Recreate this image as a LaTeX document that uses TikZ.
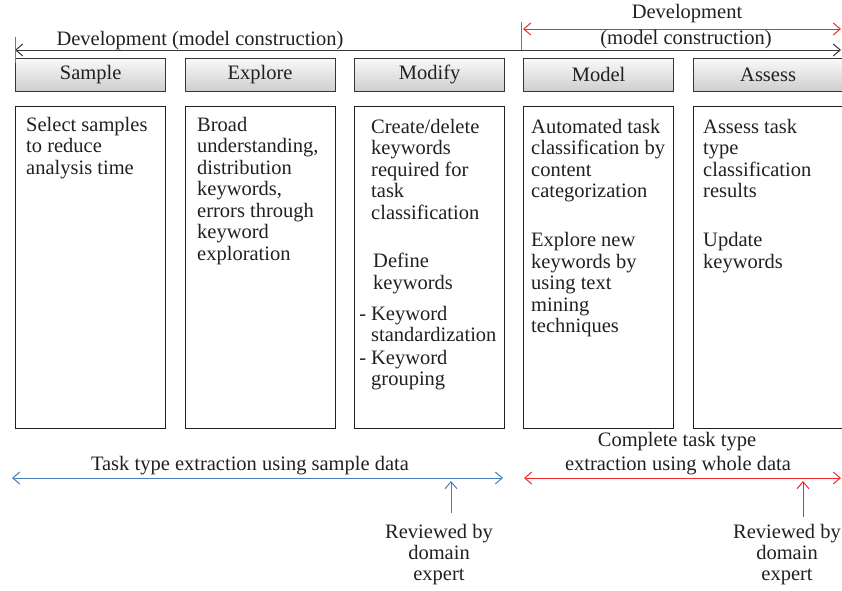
\documentclass[tikz,border=0pt]{standalone}
\usepackage{fontspec}
\setmainfont{Liberation Serif}
\usetikzlibrary{arrows.meta}
\definecolor{ablue}{HTML}{4A7EBB}
\definecolor{ared}{HTML}{EE2A2A}
\definecolor{ink}{HTML}{231F20}
\begin{document}
\begin{tikzpicture}[x=1pt,y=-1pt,
  every node/.style={text=ink, font=\fontsize{20.5}{21.5}\selectfont},
  hdr/.style={draw=ink!90, line width=1.2pt, top color=gray!5, bottom color=gray!38,
    minimum width=150pt, minimum height=32.5pt, inner sep=0pt, anchor=north west},
  bodybox/.style={draw=ink, line width=1.1pt, minimum width=150pt, minimum height=322pt,
    inner sep=0pt, anchor=north west},
  para/.style={anchor=north west, inner sep=0pt, align=left},
  rev/.style={anchor=north, inner sep=0pt, align=center},
  lbl/.style={anchor=base, inner sep=0pt},
  span/.style={{Straight Barb[length=7pt,width=12pt]}-{Straight Barb[length=7pt,width=12pt]}, line width=1pt},
  uptip/.style={-{Straight Barb[length=7pt,width=12pt]}, line width=1pt},
  tick/.style={ablue, line width=1pt}
]
\useasboundingbox (0,0) rectangle (842,590);
\clip (0,0) rectangle (842,590);

% header boxes
\node[hdr] (hsample) at (15,58) {Sample};
\node[hdr] (hexplore) at (184.5,58) {Explore};
\node[hdr] (hmodify) at (354,58) {Modify};
\node[hdr] (hmodel) at (523,58) {Model};
\node[hdr] (hassess) at (692.5,58) {Assess};

% body boxes
\node[bodybox] (bsample) at (15,106) {};
\node[bodybox] (bexplore) at (184.5,106) {};
\node[bodybox] (bmodify) at (354,106) {};
\node[bodybox] (bmodel) at (523,106) {};
\node[bodybox] (bassess) at (692.5,106) {};

% body texts
\node[para] (tsample) at (26,116) {\strut Select samples\\to reduce\\analysis time};
\node[para] (texplore) at (197,116) {\strut Broad\\understanding,\\distribution\\keywords,\\errors through\\keyword\\exploration};
\node[para] (tmodA) at (371,118) {\strut Create/delete\\keywords\\required for\\task\\classification};
\node[para] (tmodB) at (373,252.5) {\strut Define\\keywords};
\node[para] (tmodC) at (371,305) {\strut\llap{- }Keyword\\standardization};
\node[para] (tmodD) at (371,349) {\strut\llap{- }Keyword\\grouping};
\node[para] (tmodelA) at (531,118) {\strut Automated task\\classification by\\content\\categorization};
\node[para] (tmodelB) at (531,231.5) {\strut Explore new\\keywords by\\using text\\mining\\techniques};
\node[para] (tassA) at (703,118) {\strut Assess task\\type\\classification\\results};
\node[para] (tassB) at (703,231.5) {\strut Update\\keywords};

% top spans
\coordinate (tl) at (15,50);
\coordinate (tr) at (841,50);
\draw[span, draw=ink!90] (tl) -- (tr);
\draw[tick] (15,37) -- (15,63);
\node[lbl] (devl) at (200,45.5) {Development (model construction)};

\coordinate (rl) at (523,29);
\coordinate (rr) at (841,29);
\draw[span, ared] (rl) -- (rr);
\draw[tick] (521,22) -- (521,50);
\node[lbl] (devr1) at (687,18.5) {Development};
\node[lbl] (devr2) at (686,44.5) {(model construction)};

% bottom spans
\coordinate (bl) at (12,478);
\coordinate (br) at (503,478);
\draw[span, ablue] (bl) -- (br);
\node[lbl] (tsd) at (250,470.5) {Task type extraction using sample data};
\coordinate (bup0) at (451,513);
\coordinate (bup1) at (451,481);
\draw[uptip, ablue] (bup0) -- (bup1);
\node[rev, font=\fontsize{20.5}{20.3}\selectfont] (revb) at (439,524) {\strut Reviewed by\\domain\\expert};

\coordinate (rbl) at (524,478);
\coordinate (rbr) at (841,478);
\draw[span, ared] (rbl) -- (rbr);
\node[lbl] (cwd1) at (677,446) {Complete task type};
\node[lbl] (cwd2) at (678,470) {extraction using whole data};
\coordinate (rup0) at (803,517);
\coordinate (rup1) at (803,481);
\draw[uptip, ared] (rup0) -- (rup1);
\node[rev, font=\fontsize{20.5}{21}\selectfont] (revr) at (787,524) {\strut Reviewed by\\domain\\expert};
\end{tikzpicture}
\end{document}
